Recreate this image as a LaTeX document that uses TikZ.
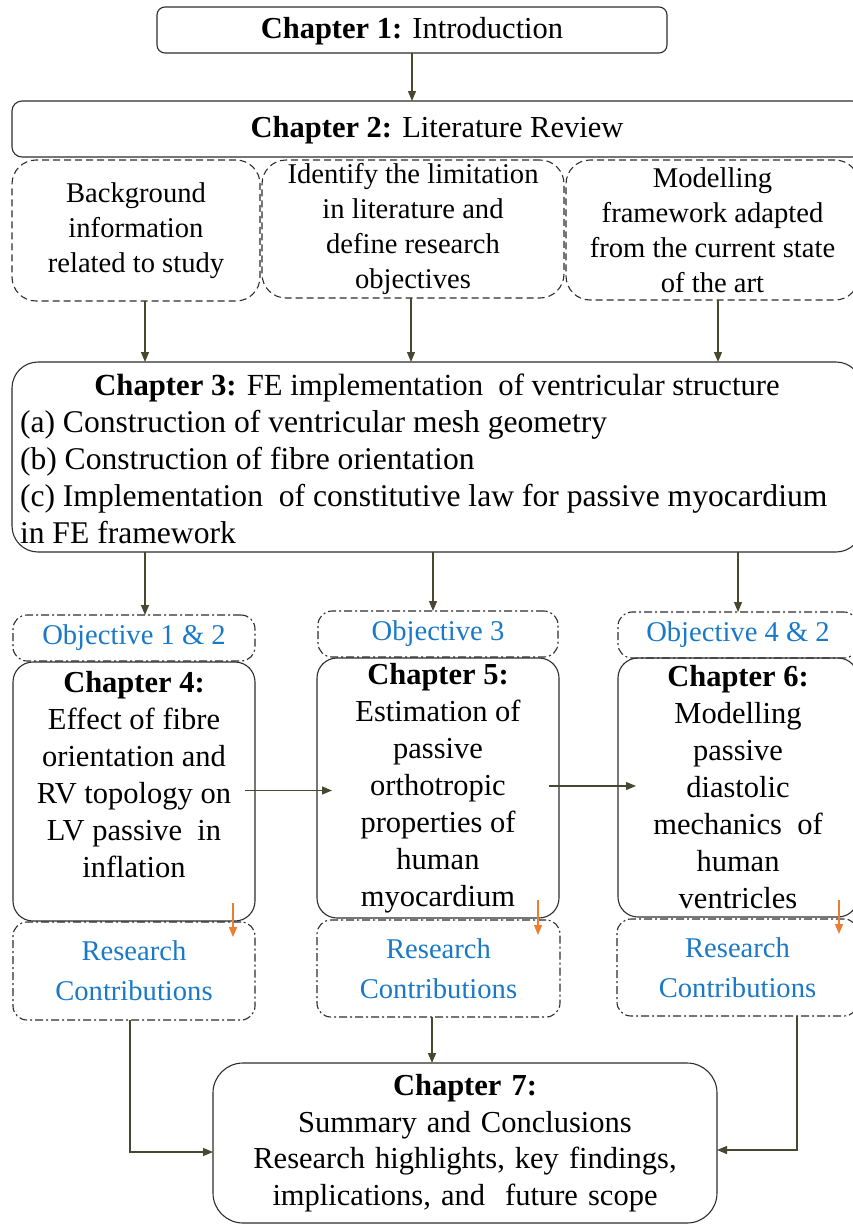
\documentclass[tikz,border=0pt]{standalone}
\usepackage{fontspec}
\setmainfont{Liberation Serif}
\usetikzlibrary{arrows.meta,calc}
\definecolor{arr}{RGB}{72,72,50}
\definecolor{objblue}{RGB}{25,120,200}
\definecolor{orng}{RGB}{237,125,49}
\definecolor{edgec}{RGB}{45,45,45}
\begin{document}
\begin{tikzpicture}[x=1pt,y=-1pt,
  every node/.style={font=\fontsize{28.6}{35}\selectfont, inner sep=0pt, outer sep=0pt, align=center},
  chbox/.style={draw=edgec, line width=1.1pt, rounded corners=#1},
  dbox/.style={draw=edgec, line width=1.1pt, rounded corners=24pt, dash pattern=on 7pt off 4pt},
  ddbox/.style={draw=edgec, line width=1.1pt, rounded corners=14pt, dash pattern=on 8pt off 3pt on 2pt off 3pt},
  conn/.style={draw=arr, line width=1.2pt, -{Triangle[width=8pt,length=10pt]}},
  oconn/.style={draw=orng, line width=1.2pt, -{Triangle[width=8pt,length=10pt]}},
  chtext/.style={font=\fontsize{30.5}{37}\selectfont},
  bigtext/.style={font=\fontsize{30.5}{35}\selectfont, text depth=4pt},
  bluetext/.style={text=objblue},
]
\useasboundingbox (0,0) rectangle (852,1224);

% Chapter 1 and 2
\node[chbox=8pt, bigtext, minimum width=510pt, minimum height=46pt] (ch1) at (412,30) {\textbf{Chapter 1:} Introduction};
\node[chbox=10pt, bigtext, minimum width=850pt, minimum height=56pt] (ch2) at (437,129) {\textbf{Chapter 2:} Literature Review};

% dashed boxes
\node[dbox, minimum width=248pt, minimum height=141pt] (bgA) at (136,230.5) {Background\\information\\related to study};
\node[dbox, minimum width=302pt, minimum height=138pt] (bgB) at (413,229) {Identify the limitation\\in literature and\\define research\\objectives};
\node[dbox, minimum width=293pt, minimum height=140pt] (bgC) at (712.5,230) {Modelling\\framework adapted\\from the current state\\of the art};

% Chapter 3
\node[chbox=26pt, minimum width=850pt, minimum height=190pt] (ch3) at (437,457) {};
\node[anchor=base, font=\fontsize{30.7}{37}\selectfont] (ch3t) at (437,395) {\textbf{Chapter 3:} FE implementation\ \ of ventricular structure};
\node[anchor=base west, font=\fontsize{31.6}{37}\selectfont] (ch3a) at (20,432) {(a) Construction of ventricular mesh geometry};
\node[anchor=base west, font=\fontsize{31.6}{37}\selectfont] (ch3b) at (20,469) {(b) Construction of fibre orientation};
\node[anchor=base west, font=\fontsize{31.6}{37}\selectfont] (ch3c) at (20,506) {(c) Implementation\ \ of constitutive law for passive myocardium};
\node[anchor=base west, font=\fontsize{31.6}{37}\selectfont] (ch3d) at (20,543) {in FE framework};

% objectives
\node[ddbox, bluetext, minimum width=242pt, minimum height=46pt] (obj1) at (134,638) {Objective 1 \& 2};
\node[ddbox, bluetext, minimum width=240pt, minimum height=46pt] (obj3) at (438,634) {Objective 3};
\node[ddbox, bluetext, minimum width=240pt, minimum height=46pt] (obj4) at (738,635) {Objective 4 \& 2};

% chapters 4-6
\node[chbox=20pt, minimum width=242pt, minimum height=259pt] (ch4) at (134,791.5) {};
\node[chtext] (ch4t) at (134,775) {\textbf{Chapter 4:}\\Effect of fibre\\orientation and\\RV topology on\\LV passive\ \ in\\inflation};
\node[chbox=20pt, chtext, minimum width=242pt, minimum height=260pt] (ch5) at (438,788) {\textbf{Chapter 5:}\\Estimation of\\passive\\orthotropic\\properties of\\human\\myocardium};
\node[chbox=20pt, chtext, minimum width=240pt, minimum height=259pt] (ch6) at (738,787.5) {\textbf{Chapter 6:}\\Modelling\\passive\\diastolic\\mechanics\ \ of\\human\\ventricles};

% research contributions
\node[ddbox, bluetext, font=\fontsize{28.6}{40}\selectfont, minimum width=242pt, minimum height=98pt] (rc4) at (134,971) {Research\\Contributions};
\node[ddbox, bluetext, font=\fontsize{28.6}{40}\selectfont, minimum width=243pt, minimum height=97pt] (rc5) at (438.5,968.5) {Research\\Contributions};
\node[ddbox, bluetext, font=\fontsize{28.6}{40}\selectfont, minimum width=241pt, minimum height=97pt] (rc6) at (737.5,967.5) {Research\\Contributions};

% chapter 7
\node[chbox=30pt, font={\fontsize{30.5}{36.5}\selectfont\spaceskip=0.33em plus 0.1em}, minimum width=504pt, minimum height=160pt] (ch7) at (465,1143) {\textbf{Chapter 7:}\\Summary and Conclusions\\Research highlights, key findings,\\implications, and\ \ future scope};

% connectors
\draw[conn] (ch1.south) -- (ch1.south |- ch2.north);
\coordinate (xa) at (145,0);
\coordinate (xb) at (411,0);
\coordinate (xc) at (718,0);
\draw[conn] (bgA.south -| xa) -- (ch3.north -| xa);
\draw[conn] (bgB.south -| xb) -- (ch3.north -| xb);
\draw[conn] (bgC.south -| xc) -- (ch3.north -| xc);
\coordinate (xd) at (145,0);
\coordinate (xe) at (433,0);
\coordinate (xf) at (738,0);
\draw[conn] (ch3.south -| xd) -- (obj1.north -| xd);
\draw[conn] (ch3.south -| xe) -- (obj3.north -| xe);
\draw[conn] (ch3.south -| xf) -- (obj4.north -| xf);

\draw[conn] ($(ch4.east)+(-10,-1)$) -- ($(ch4.east -| ch5.west)+(15,-1)$);
\draw[conn] ($(ch5.east)+(-10,-2)$) -- ($(ch5.east -| ch6.west)+(18,-2)$);

\draw[oconn] ($(ch4.south east)+(-22,-18)$) -- ($(ch4.south east)+(-22,16)$);
\draw[oconn] ($(ch5.south east)+(-21,-18)$) -- ($(ch5.south east)+(-21,17)$);
\draw[oconn] ($(ch6.south east)+(-19,-17)$) -- ($(ch6.south east)+(-19,17)$);

\coordinate (xg) at (130,0);
\coordinate (xh) at (432,0);
\coordinate (xi) at (797,0);
\draw[conn] (rc4.south -| xg) |- ($(ch7.west)+(0,9)$);
\draw[conn] (rc5.south -| xh) -- (ch7.north -| xh);
\draw[conn] (rc6.south -| xi) |- ($(ch7.east)+(0,7)$);
\end{tikzpicture}
\end{document}
